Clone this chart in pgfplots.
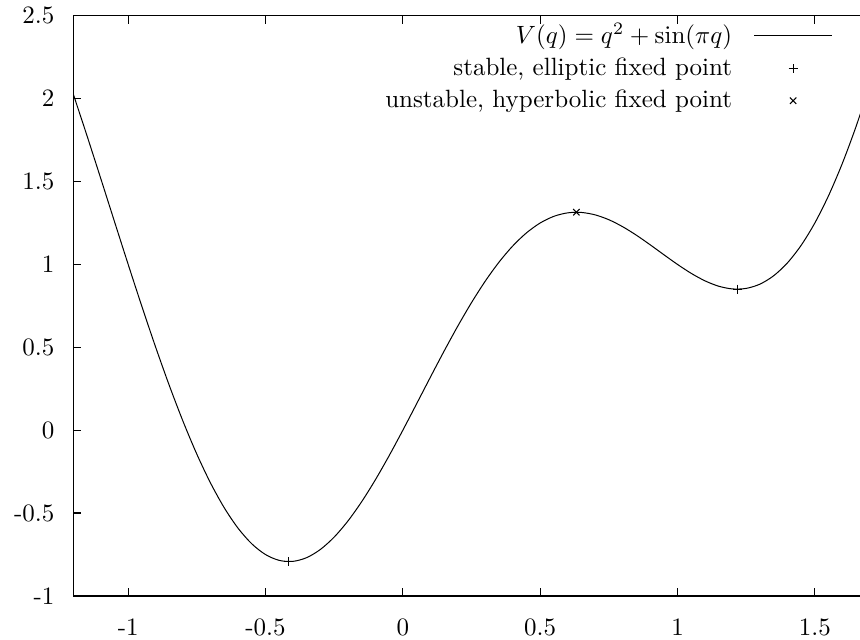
\documentclass[border=0pt]{standalone}
\usepackage{pgfplots}
\pgfplotsset{compat=1.18}
\pgfplotsset{
  linelegend/.style={legend image code/.code={\draw[##1] (0pt,0pt) -- (31.2pt,0pt);}},
  marklegend/.style={legend image code/.code={\draw[##1] plot coordinates {(15.6pt,0pt)};}},
}

\begin{document}
\begin{tikzpicture}
\useasboundingbox (-29.3pt,-17.6pt) rectangle (314.7pt,238.4pt);
\begin{axis}[
  at={(0,0)}, anchor=south west,
  scale only axis,
  width=318.6pt, height=232.1pt,
  xmin=-1.2, xmax=1.7,
  ymin=-1, ymax=2.5,
  xtick={-1,-0.5,0,0.5,1,1.5},
  ytick={-1,-0.5,0,0.5,1,1.5,2,2.5},
  xtick pos=both, ytick pos=left,
  tick align=inside,
  major tick length=3.2pt,
  tick style={line width=0.5pt, black},
  axis line style={line width=0.6pt},
  /pgf/number format/assume math mode=true,
  xticklabel style={yshift=-5.5pt},
  yticklabel style={xshift=-4pt},
  legend cell align=right,
  legend plot pos=right,
  legend style={draw=none, fill=none, inner sep=0pt,
    at={(0.954,0.996)}, anchor=north east,
    row sep=0.2pt, column sep=6.6pt},
]
\addplot[black, line width=0.4pt, smooth, linelegend]
coordinates {
(-1.20,2.027785) (-1.15,1.776490) (-1.10,1.519017) (-1.05,1.258934)
(-1.00,1.000000) (-0.95,0.746066) (-0.90,0.500983) (-0.85,0.268510)
(-0.80,0.052215) (-0.75,-0.144607) (-0.70,-0.319017) (-0.65,-0.468507)
(-0.60,-0.591057) (-0.55,-0.685188) (-0.50,-0.750000) (-0.45,-0.785188)
(-0.40,-0.791057) (-0.35,-0.768507) (-0.30,-0.719017) (-0.25,-0.644607)
(-0.20,-0.547785) (-0.15,-0.431490) (-0.10,-0.299017) (-0.05,-0.153934)
(0.00,0.000000) (0.05,0.158934) (0.10,0.319017) (0.15,0.476490)
(0.20,0.627785) (0.25,0.769607) (0.30,0.899017) (0.35,1.013507)
(0.40,1.111057) (0.45,1.190188) (0.50,1.250000) (0.55,1.290188)
(0.60,1.311057) (0.65,1.313507) (0.70,1.299017) (0.75,1.269607)
(0.80,1.227785) (0.85,1.176490) (0.90,1.119017) (0.95,1.058934)
(1.00,1.000000) (1.05,0.946066) (1.10,0.900983) (1.15,0.868510)
(1.20,0.852215) (1.25,0.855393) (1.30,0.880983) (1.35,0.931493)
(1.40,1.008943) (1.45,1.114812) (1.50,1.250000) (1.55,1.414812)
(1.60,1.608943) (1.65,1.831493) (1.70,2.080983)
};
\addlegendentry{$V(q)=q^2+\sin(\pi q)$}
\addplot[black, only marks, mark=+, mark size=1.8pt, line width=0.4pt, marklegend]
coordinates {(-0.4149,-0.7924) (1.2176,0.8510)};
\addlegendentry{stable, elliptic fixed point}
\addplot[black, only marks, mark=x, mark size=1.8pt, line width=0.4pt, marklegend]
coordinates {(0.6318,1.3148)};
\addlegendentry{unstable, hyperbolic fixed point}
\end{axis}
\end{tikzpicture}
\end{document}
